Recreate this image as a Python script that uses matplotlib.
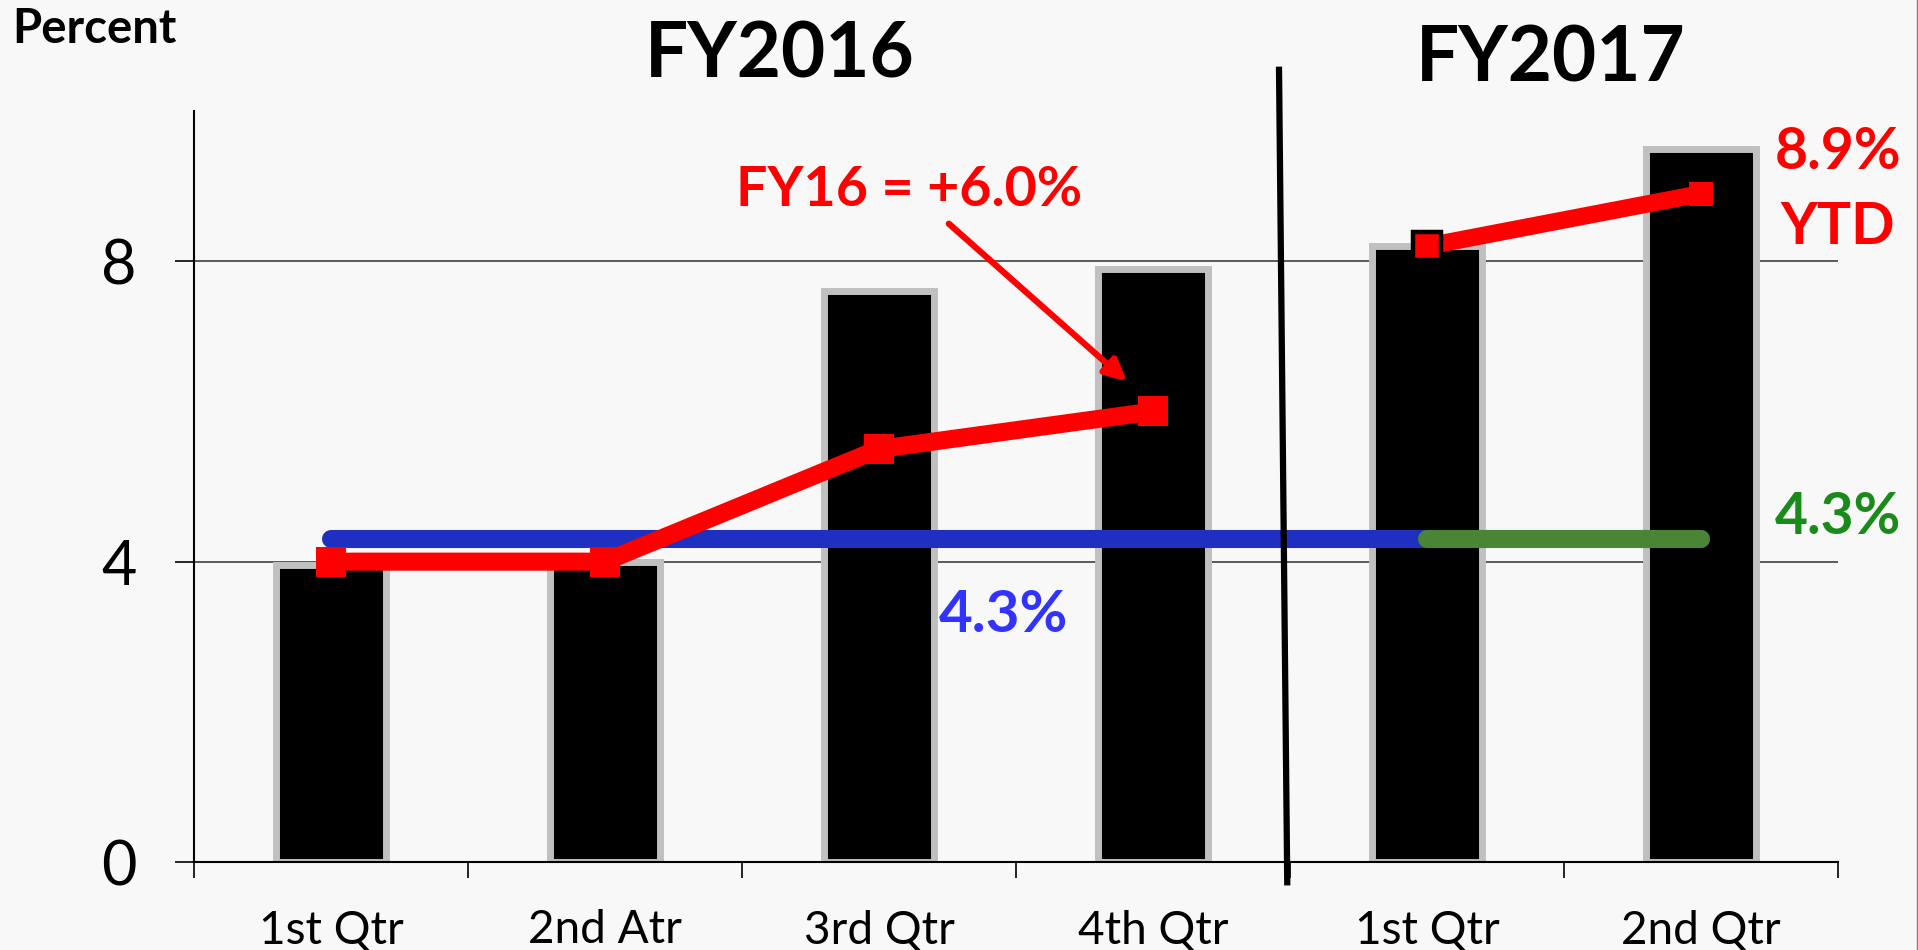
import matplotlib.pyplot as plt
import numpy as np
from matplotlib.lines import Line2D

plt.rcParams['font.family'] = ['Lato', 'DejaVu Sans']

# data
quarters = ['1st Qtr', '2nd Atr', '3rd Qtr', '4th Qtr', '1st Qtr', '2nd Qtr']
bar_values = [3.95, 4.0, 7.6, 7.9, 8.2, 9.5]
fy16_growth = [4.0, 4.0, 5.5, 6.0]
fy17_growth = [8.2, 8.9]
avg_fy16 = 4.3
avg_fy17 = 4.3
y_ticks = [0, 4, 8]

bg = '#f8f8f8'
fig = plt.figure(figsize=(19.18, 9.5), dpi=100, facecolor=bg)
ax = fig.add_axes([0.1011, 0.0926, 0.8572, 0.7905], facecolor=bg)

x = np.arange(len(quarters))
x16 = x[:4]
x17 = x[4:]

# bars
ax.bar(x, bar_values, width=0.4, color='black', edgecolor='#c0c0c0',
       linewidth=5, zorder=2)

# average lines
ax.plot([x[0], x[-1]], [avg_fy16, avg_fy16], color='#1f2fbf', lw=13,
        solid_capstyle='round', zorder=3)
ax.plot([x17[0], x17[-1]], [avg_fy17, avg_fy17], color='#4a8535', lw=13,
        solid_capstyle='round', zorder=4)

# growth lines
ax.plot(x16, fy16_growth, color='red', lw=13, marker='s', ms=22, mew=0,
        zorder=5)
ax.plot(x17, fy17_growth, color='red', lw=12.5, marker='s', ms=17, mew=0,
        zorder=5)
ax.plot(x17[:1], fy17_growth[:1], ls='none', marker='s', ms=20.5,
        mfc='red', mec='black', mew=3.2, zorder=6)

# divider between fiscal years
ax.add_line(Line2D([3.46, 3.49], [10.55, -0.27], color='black', lw=4.5,
                   clip_on=False, zorder=7))

# axes styling
ax.set_xlim(-0.5, 5.5)
ax.set_ylim(0, 10)
ax.set_yticks(y_ticks)
ax.tick_params(axis='y', length=14, width=1.2, labelsize=44, pad=27,
               direction='out')
ax.yaxis.grid(True, color='#404040', lw=1.2)
ax.set_axisbelow(True)

ax.set_xticks(np.arange(-0.5, 6, 1))
ax.set_xticklabels([])
ax.set_xticks(x, minor=True)
ax.set_xticklabels(quarters, minor=True)
ax.tick_params(axis='x', which='major', length=11.5, width=1.2,
               direction='out')
ax.tick_params(axis='x', which='minor', length=0, labelsize=33, pad=34)

for s in ['top', 'right']:
    ax.spines[s].set_visible(False)
for s in ['left', 'bottom']:
    ax.spines[s].set_linewidth(1.5)
    ax.spines[s].set_zorder(8)

# titles
fig.text(12 / 1918, 1 - 43 / 950, 'Percent', fontsize=34,
         fontweight='bold', ha='left', va='baseline')
fig.text(780 / 1918, 1 - 77 / 950, 'FY2016', fontsize=55,
         fontweight='bold', ha='center', va='baseline')
fig.text(1551 / 1918, 1 - 81 / 950, 'FY2017', fontsize=55,
         fontweight='bold', ha='center', va='baseline')

# annotations
ax.annotate('', xy=(2.905, 6.40), xytext=(2.255, 8.50),
            arrowprops=dict(arrowstyle='-|>', color='red', lw=4.5,
                            mutation_scale=32, shrinkA=0, shrinkB=0),
            zorder=7)
ax.text(2.11, 8.74, 'FY16 = +6.0%', color='red', fontsize=40,
        fontweight='bold', ha='center', va='baseline')
ax.text(2.456, 3.06, '4.3%', color='#3333ff', fontsize=42,
        fontweight='bold', ha='center', va='baseline')
ax.text(5.5, 4.37, '4.3%', color='#1a8a1a', fontsize=41,
        fontweight='bold', ha='center', va='baseline', clip_on=False)
ax.text(5.5, 9.23, '8.9%', color='red', fontsize=41,
        fontweight='bold', ha='center', va='baseline', clip_on=False)
ax.text(5.5, 8.23, 'YTD', color='red', fontsize=41,
        fontweight='bold', ha='center', va='baseline', clip_on=False)

# thin frame on the right edge
fig.add_artist(Line2D([0.9995, 0.9995], [0, 1], color='#808080', lw=1,
                      transform=fig.transFigure))

fig.savefig('out.png', dpi=100, facecolor=bg)
